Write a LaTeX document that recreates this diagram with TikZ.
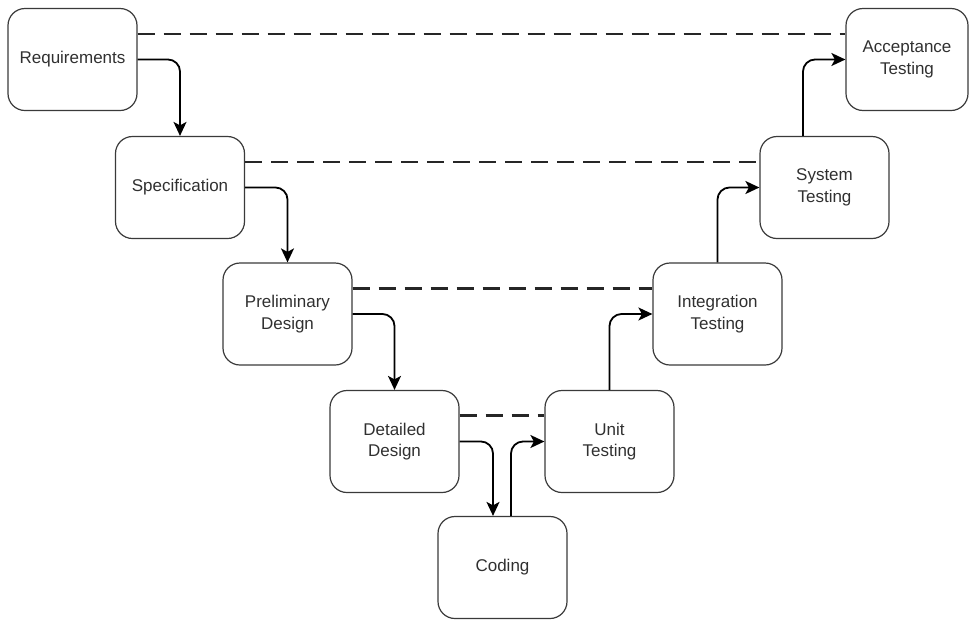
\documentclass[tikz,border=0pt]{standalone}
\usepackage{fontspec}
\setmainfont{Liberation Sans}
\usetikzlibrary{arrows.meta}
\definecolor{boxline}{HTML}{3A3A3A}
\definecolor{boxtext}{HTML}{303030}
\begin{document}
\begin{tikzpicture}[x=1pt,y=-1pt,
  phase/.style={draw=boxline, line width=1.2pt, rounded corners=17pt,
    minimum width=129pt, minimum height=102pt, align=center,
    text=boxtext, font=\fontsize{17}{21.5}\selectfont, inner sep=2pt},
  flow/.style={draw=black, line width=1.8pt, rounded corners=12pt,
    -{Stealth[length=14pt,width=13pt,inset=3.5pt]}},
  dashline/.style={draw=black!85, line width=2.1pt, dash pattern=on 17pt off 9pt}]
\useasboundingbox (0,0) rectangle (969,619);

% left arm: requirements down to coding
\node[phase] (req)   at (72.5,59.5)  {Requirements};
\node[phase] (spec)  at (180,187.5)  {Specification};
\node[phase] (prel)  at (287.5,314)  {Preliminary\\Design};
\node[phase] (det)   at (394.5,441.5){Detailed\\Design};
\node[phase] (cod)   at (502.5,567.5){Coding};
% right arm: testing phases up to acceptance
\node[phase] (unit)  at (609.5,441.5){Unit\\Testing};
\node[phase] (integ) at (717.5,314)  {Integration\\Testing};
\node[phase] (sys)   at (824.5,187.5){System\\Testing};
\node[phase, minimum width=122pt] (acc) at (907,59.5) {Acceptance\\Testing};

% verification links between matching levels
\draw[dashline] ([yshift=25.5pt]req.east)  -- ([yshift=25.5pt]acc.west);
\draw[dashline] ([yshift=25.5pt]spec.east) -- ([yshift=25.5pt]sys.west);
\draw[dashline] ([yshift=25.5pt]prel.east) -- ([yshift=25.5pt]integ.west);
\draw[dashline] ([yshift=26pt]det.east)    -- ([yshift=26pt]unit.west);

% process flow
\draw[flow] (req.east)  -| (spec.north);
\draw[flow] (spec.east) -| (prel.north);
\draw[flow] (prel.east) -| (det.north);
\draw[flow] (det.east)  -| ([xshift=-9.5pt]cod.north);
\draw[flow] ([xshift=8.5pt]cod.north) |- (unit.west);
\draw[flow] (unit.north)  |- (integ.west);
\draw[flow] (integ.north) |- (sys.west);
\draw[flow] ([xshift=-21.5pt]sys.north) |- (acc.west);
\end{tikzpicture}
\end{document}
